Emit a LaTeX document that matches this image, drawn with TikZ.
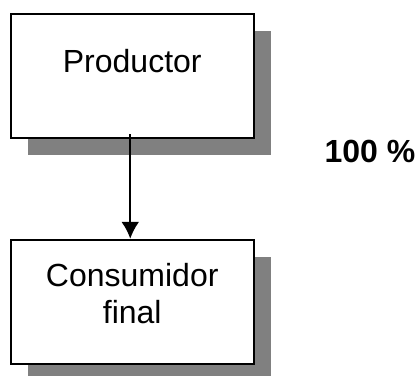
\documentclass[tikz,border=0pt]{standalone}
\usepackage{fontspec}
\setmainfont{Liberation Sans}
\usetikzlibrary{shadows,arrows.meta}
\begin{document}
\begin{tikzpicture}[x=1pt,y=-1pt,
  box/.style={draw,line width=2pt,fill=white,minimum width=242.5pt,minimum height=124.5pt,inner sep=0pt,align=center,
    font=\fontsize{32}{37}\selectfont,
    drop shadow={shadow xshift=17pt,shadow yshift=-17pt,fill=black!50,opacity=1}}]
	\useasboundingbox (0,0) rectangle (419,375);
	\node[box,text height=20pt,text depth=28pt] (prod) at (132.25,76) {Productor};
	\node[box,text height=60pt,text depth=18pt] (cons) at (132.25,302) {Consumidor\\final};
	\draw[line width=2pt,-{Latex[length=17pt,width=18pt]}] ([xshift=-2pt,yshift=5pt]prod.south) -- ([xshift=-2pt]cons.north);
	\node[font=\fontsize{32}{37}\selectfont\bfseries,anchor=base,inner sep=0pt] (pct) at (370,162) {100 \%};
\end{tikzpicture}
\end{document}
